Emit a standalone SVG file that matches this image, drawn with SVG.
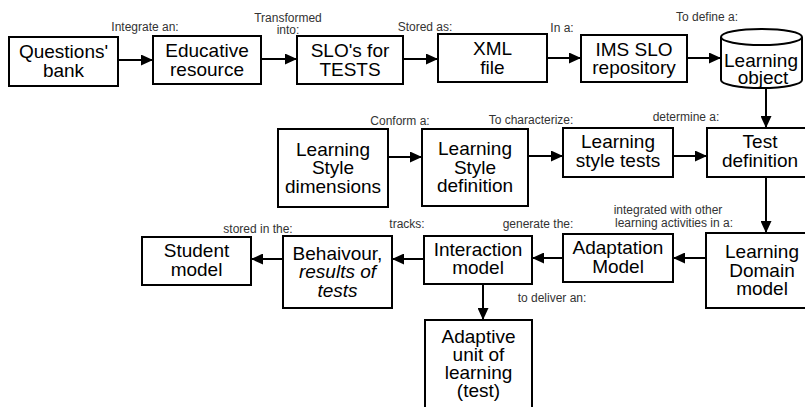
<svg xmlns="http://www.w3.org/2000/svg" width="805" height="407" viewBox="0 0 805 407">
<style>
.box{fill:#fff;stroke:#000;stroke-width:2}
.t{font-family:"Liberation Sans",Arial,sans-serif;font-size:19px;fill:#000;text-anchor:middle}
.i{font-style:italic}
.lbl{font-family:"Liberation Sans",Arial,sans-serif;font-size:12px;fill:#333;text-anchor:middle}
.c{stroke:#000;stroke-width:2;fill:none;marker-end:url(#ah)}
</style>
<defs>
<marker id="ah" markerUnits="userSpaceOnUse" markerWidth="12" markerHeight="11" refX="12" refY="5.5" orient="auto">
<path d="M0,0 L12,5.5 L0,11 z" fill="#000"/>
</marker>
</defs>
<rect width="805" height="407" fill="#fff"/>

<g id="connectors">
<line class="c" x1="118" y1="60" x2="153" y2="60"/>
<line class="c" x1="261" y1="59" x2="297" y2="59"/>
<line class="c" x1="403" y1="59" x2="438" y2="59"/>
<line class="c" x1="547" y1="58" x2="581" y2="58"/>
<line class="c" x1="687" y1="58" x2="721" y2="58"/>
<line class="c" x1="766" y1="88" x2="766" y2="128"/>
<line class="c" x1="388" y1="157" x2="422" y2="157"/>
<line class="c" x1="528" y1="156" x2="563" y2="156"/>
<line class="c" x1="673" y1="156" x2="707" y2="156"/>
<line class="c" x1="766" y1="177" x2="766" y2="233"/>
<line class="c" x1="706" y1="258" x2="673" y2="258"/>
<line class="c" x1="563" y1="258" x2="532" y2="258"/>
<line class="c" x1="424" y1="259" x2="392" y2="259"/>
<line class="c" x1="283" y1="259" x2="251" y2="259"/>
<line class="c" x1="483" y1="284" x2="483" y2="320"/>
<text class="lbl" x="145" y="31">Integrate an:</text>
<text class="lbl" x="288" y="22">Transformed<tspan x="288" dy="12">into:</tspan></text>
<text class="lbl" x="425" y="31">Stored as:</text>
<text class="lbl" x="562" y="32">In a:</text>
<text class="lbl" x="707" y="21">To define a:</text>
<text class="lbl" x="400" y="125">Conform a:</text>
<text class="lbl" x="531" y="124">To characterize:</text>
<text class="lbl" x="686" y="121">determine a:</text>
<text class="lbl" x="668" y="214">integrated with other<tspan x="674" dy="13">learning activities in a:</tspan></text>
<text class="lbl" x="538" y="228">generate the:</text>
<text class="lbl" x="407" y="228">tracks:</text>
<text class="lbl" x="258" y="233">stored in the:</text>
<text class="lbl" x="552" y="302">to deliver an:</text>
</g>

<g id="questions-bank">
<rect class="box" x="9" y="37" width="109" height="49"/>
<text class="t" x="63.5" y="58">Questions'<tspan x="63.5" dy="18.5">bank</tspan></text>
</g>
<g id="educative-resource">
<rect class="box" x="153" y="36" width="108" height="48"/>
<text class="t" x="207" y="57">Educative<tspan x="207" dy="18.5">resource</tspan></text>
</g>
<g id="slo-tests">
<rect class="box" x="297" y="36" width="106" height="48"/>
<text class="t" x="350" y="57">SLO's for<tspan x="350" dy="18.5">TESTS</tspan></text>
</g>
<g id="xml-file">
<rect class="box" x="438" y="34" width="109" height="48"/>
<text class="t" x="492.5" y="55">XML<tspan x="492.5" dy="18.5">file</tspan></text>
</g>
<g id="ims-slo-repository">
<rect class="box" x="581" y="35" width="106" height="47"/>
<text class="t" x="634" y="55.5">IMS SLO<tspan x="634" dy="18.5">repository</tspan></text>
</g>
<g id="learning-object">
<path class="box" d="M721,37 V80 A40.5,8 0 0 0 802,80 V37"/>
<ellipse class="box" cx="761.5" cy="37" rx="40.5" ry="8"/>
<text class="t" x="761" y="67">Learning<tspan x="763" dy="17">object</tspan></text>
</g>
<g id="ls-dimensions">
<rect class="box" x="278" y="129" width="110" height="78"/>
<text class="t" x="333" y="155.5">Learning<tspan x="333" dy="18.5">Style</tspan><tspan x="333" dy="18.5">dimensions</tspan></text>
</g>
<g id="ls-definition">
<rect class="box" x="422" y="129" width="106" height="77"/>
<text class="t" x="475" y="155">Learning<tspan x="475" dy="18.5">Style</tspan><tspan x="475" dy="18.5">definition</tspan></text>
</g>
<g id="ls-tests">
<rect class="box" x="563" y="128" width="110" height="49"/>
<text class="t" x="618" y="148">Learning<tspan x="618" dy="18.5">style tests</tspan></text>
</g>
<g id="test-definition">
<rect class="box" x="707" y="128" width="110" height="49"/>
<text class="t" x="760" y="148">Test<tspan x="760" dy="18.5">definition</tspan></text>
</g>
<g id="learning-domain-model">
<rect class="box" x="706" y="233" width="112" height="75"/>
<text class="t" x="762" y="258">Learning<tspan x="762" dy="18.5">Domain</tspan><tspan x="762" dy="18.5">model</tspan></text>
</g>
<g id="adaptation-model">
<rect class="box" x="563" y="234" width="110" height="48"/>
<text class="t" x="618" y="254">Adaptation<tspan x="618" dy="18.5">Model</tspan></text>
</g>
<g id="interaction-model">
<rect class="box" x="424" y="236" width="108" height="48"/>
<text class="t" x="478" y="255.5">Interaction<tspan x="478" dy="18.5">model</tspan></text>
</g>
<g id="behaviour">
<rect class="box" x="283" y="236" width="109" height="72"/>
<text class="t" x="337.5" y="259.5">Behaivour,<tspan class="i" x="337.5" dy="18.5">results of</tspan><tspan class="i" x="337.5" dy="18.5">tests</tspan></text>
</g>
<g id="student-model">
<rect class="box" x="142" y="237" width="109" height="48"/>
<text class="t" x="196.5" y="257">Student<tspan x="196.5" dy="18.5">model</tspan></text>
</g>
<g id="adaptive-unit">
<rect class="box" x="425" y="320" width="107" height="100"/>
<text class="t" x="478.5" y="343">Adaptive<tspan x="478.5" dy="18">unit of</tspan><tspan x="478.5" dy="18">learning</tspan><tspan x="478.5" dy="18">(test)</tspan></text>
</g>
</svg>
